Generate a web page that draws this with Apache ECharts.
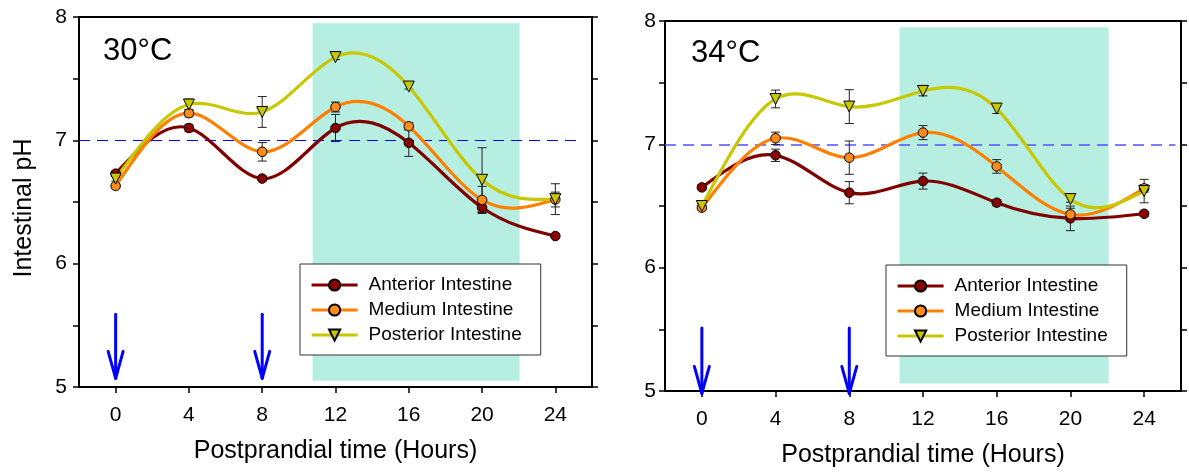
<!DOCTYPE html>
<html>
<head>
<meta charset="utf-8">
<script src="https://cdn.jsdelivr.net/npm/echarts@6/dist/echarts.min.js"></script>
<style>
html,body{margin:0;padding:0;background:#fff;}
#chart{width:1189px;height:473px;}
</style>
</head>
<body>
<div id="chart"></div>
<script>
// ---------- data ----------
const hours = [0, 4, 8, 12, 16, 20, 24];
const xTickValues = [0, 4, 8, 12, 16, 20, 24];
const yLabelValues = [5, 6, 7, 8];
const seriesNames = ['Anterior Intestine', 'Medium Intestine', 'Posterior Intestine'];
const panelTitles = ['30°C', '34°C'];

const ant30 = [6.73, 7.10, 6.69, 7.10, 6.98, 6.455, 6.224];
const ant30Err = [0.02, 0.03, 0.02, 0.11, 0.11, 0.04, 0.02];
const med30 = [6.63, 7.22, 6.907, 7.27, 7.114, 6.517, 6.52];
const med30Err = [0.02, 0.03, 0.075, 0.04, 0.03, 0.11, 0.06];
const pos30 = [6.69, 7.29, 7.23, 7.675, 7.436, 6.68, 6.523];
const pos30Err = [0.02, 0.045, 0.125, 0.02, 0.02, 0.26, 0.125];

const ant34 = [6.651, 6.911, 6.608, 6.702, 6.527, 6.40, 6.437];
const ant34Err = [0.02, 0.05, 0.09, 0.065, 0.025, 0.10, 0.02];
const med34 = [6.486, 7.049, 6.892, 7.095, 6.821, 6.432, 6.643];
const med34Err = [0.02, 0.05, 0.135, 0.057, 0.055, 0.05, 0.03];
const pos34 = [6.50, 7.368, 7.306, 7.433, 7.29, 6.556, 6.621];
const pos34Err = [0.02, 0.072, 0.137, 0.04, 0.04, 0.025, 0.095];

const feedingTimes = [0, 8];
const arrow30 = [5.59, 5.07];   // [top, tip] pH
const arrow34 = [5.51, 4.98];
const shade30 = [10.75, 22.05, 5.05, 7.95]; // x0, x1, y0, y1
const shade34 = [10.73, 22.07, 5.06, 7.95];
const neutralPH = 7;
const dashEnd = [25.5, 25.7];

// ---------- styles ----------
const FONT = 'Liberation Sans, Arial, sans-serif';
const colors = ['#800000', '#ff8000', '#c8c800'];
const markerFill = ['#8b0000', '#ff8c1a', '#c8c800'];
const symbols = ['circle', 'circle', 'triangle'];
const rot = [0, 0, 180];

// natural cubic spline second derivatives (used only to shape the drawn curve)
function splineM(xs, ys) {
  const n = xs.length, M = new Array(n).fill(0);
  if (n < 3) return M;
  const a = [], b = [], c = [], d = [];
  for (let i = 1; i < n - 1; i++) {
    const h0 = xs[i] - xs[i - 1], h1 = xs[i + 1] - xs[i];
    a.push(h0); b.push(2 * (h0 + h1)); c.push(h1);
    d.push(6 * ((ys[i + 1] - ys[i]) / h1 - (ys[i] - ys[i - 1]) / h0));
  }
  const m = b.length;
  for (let i = 1; i < m; i++) {
    const w = a[i] / b[i - 1];
    b[i] -= w * c[i - 1]; d[i] -= w * d[i - 1];
  }
  const sol = new Array(m);
  sol[m - 1] = d[m - 1] / b[m - 1];
  for (let i = m - 2; i >= 0; i--) sol[i] = (d[i] - c[i] * sol[i + 1]) / b[i];
  for (let i = 0; i < m; i++) M[i + 1] = sol[i];
  return M;
}

function curveSeries(v, k, idx) {
  const M = splineM(hours, v);
  return {
    type: 'custom', xAxisIndex: idx * 2, yAxisIndex: idx * 2, z: 4, silent: true,
    data: hours.map((h, i) => [h, v[i]]),
    renderItem: function (params, api) {
      const i = params.dataIndex;
      if (i >= hours.length - 1) return null;
      const x0 = hours[i], x1 = hours[i + 1], y0 = v[i], y1 = v[i + 1];
      const h = x1 - x0;
      const s0 = (y1 - y0) / h - h * (2 * M[i] + M[i + 1]) / 6;
      const s1 = (y1 - y0) / h + h * (M[i] + 2 * M[i + 1]) / 6;
      const p0 = api.coord([x0, y0]);
      const c1 = api.coord([x0 + h / 3, y0 + s0 * h / 3]);
      const c2 = api.coord([x1 - h / 3, y1 - s1 * h / 3]);
      const p1 = api.coord([x1, y1]);
      return { type: 'bezierCurve',
        shape: { x1: p0[0], y1: p0[1], cpx1: c1[0], cpy1: c1[1], cpx2: c2[0], cpy2: c2[1], x2: p1[0], y2: p1[1] },
        style: { stroke: colors[k], lineWidth: 3.2, fill: null, lineCap: 'round' } };
    }
  };
}

function errSeries(v, e, idx) {
  return {
    type: 'custom', xAxisIndex: idx * 2, yAxisIndex: idx * 2, z: 3, silent: true,
    data: hours.map((h, i) => [h, v[i], e[i]]),
    renderItem: function (params, api) {
      const x = api.value(0), y = api.value(1), er = api.value(2);
      const t = api.coord([x, y + er]), b = api.coord([x, y - er]);
      const w = 4.5;
      const st = { stroke: '#222', lineWidth: 1 };
      return { type: 'group', children: [
        { type: 'line', shape: { x1: t[0], y1: t[1], x2: b[0], y2: b[1] }, style: st },
        { type: 'line', shape: { x1: t[0] - w, y1: t[1], x2: t[0] + w, y2: t[1] }, style: st },
        { type: 'line', shape: { x1: b[0] - w, y1: b[1], x2: b[0] + w, y2: b[1] }, style: st }
      ]};
    }
  };
}

function markerSeries(name, v, k, idx) {
  return {
    name: name, type: 'line', xAxisIndex: idx * 2, yAxisIndex: idx * 2,
    data: hours.map((h, i) => [h, v[i]]),
    z: 5,
    symbol: symbols[k], symbolRotate: rot[k], symbolSize: k === 2 ? 11 : 9.5,
    lineStyle: { color: colors[k], width: 3.2, opacity: 0 },
    itemStyle: { color: markerFill[k], borderColor: '#000', borderWidth: 1 },
    emphasis: { disabled: true }
  };
}

function shadeSeries(s, idx) {
  return {
    type: 'custom', xAxisIndex: idx * 2, yAxisIndex: idx * 2, z: 1, silent: true,
    data: [s],
    renderItem: function (params, api) {
      const p0 = api.coord([api.value(0), api.value(3)]);
      const p1 = api.coord([api.value(1), api.value(2)]);
      return { type: 'rect', shape: { x: p0[0], y: p0[1], width: p1[0] - p0[0], height: p1[1] - p0[1] },
        style: { fill: '#b6efe1' } };
    }
  };
}

function arrowSeries(a, idx) {
  return {
    type: 'custom', xAxisIndex: idx * 2, yAxisIndex: idx * 2, z: 6, silent: true, clip: false,
    data: feedingTimes.map(t => [t, a[0], a[1]]),
    renderItem: function (params, api) {
      const top = api.coord([api.value(0), api.value(1)]);
      const tip = api.coord([api.value(0), api.value(2)]);
      const st = { stroke: '#0000ff', lineWidth: 3, lineCap: 'round', lineJoin: 'round', fill: null };
      return { type: 'group', children: [
        { type: 'line', shape: { x1: top[0], y1: top[1], x2: tip[0], y2: tip[1] }, style: st },
        { type: 'polyline', shape: { points: [[tip[0] - 7.5, tip[1] - 27], [tip[0], tip[1]], [tip[0] + 7.5, tip[1] - 27]] }, style: st }
      ]};
    }
  };
}

function dashSeries(idx, end, color, width) {
  return {
    type: 'line', xAxisIndex: idx * 2, yAxisIndex: idx * 2, data: [], silent: true,
    markLine: {
      silent: true, symbol: 'none', animation: false, z: 2,
      label: { show: false },
      lineStyle: { color: color, width: width, type: [11, 7] },
      data: [[{ coord: [-2, neutralPH] }, { coord: [end, neutralPH] }]]
    }
  };
}

const grids = [
  { left: 79, right: 597, top: 17, bottom: 86 },
  { left: 665, right: 8, top: 21, bottom: 82 }
];

function axesFor(idx) {
  const axLine = { show: true, onZero: false, lineStyle: { color: '#000', width: 2 } };
  const xs = [
    { type: 'value', gridIndex: idx, min: -2, max: 26, position: 'bottom',
      axisLine: axLine,
      axisTick: { show: true, inside: false, length: 6, customValues: xTickValues, lineStyle: { color: '#000', width: 1.5 } },
      axisLabel: { customValues: xTickValues, fontSize: 21, color: '#000', fontFamily: FONT, margin: 18 },
      splitLine: { show: false },
      name: 'Postprandial time (Hours)', nameLocation: 'middle', nameGap: 52,
      nameTextStyle: { fontSize: 25, color: '#000', fontFamily: FONT, verticalAlign: 'top' } },
    { type: 'value', gridIndex: idx, min: -2, max: 26, position: 'top',
      axisLine: axLine, axisTick: { show: false }, axisLabel: { show: false }, splitLine: { show: false } }
  ];
  const ys = [
    { type: 'value', gridIndex: idx, min: 5, max: 8, interval: 0.5, position: 'left',
      axisLine: axLine,
      axisTick: { show: true, inside: false, length: 6, lineStyle: { color: '#000', width: 1.5 } },
      axisLabel: { fontSize: 21, color: '#000', fontFamily: FONT, margin: idx === 0 ? 12 : 9,
        formatter: v => (yLabelValues.indexOf(v) >= 0 ? String(v) : '') },
      splitLine: { show: false } },
    { type: 'value', gridIndex: idx, min: 5, max: 8, interval: 0.5, position: 'right',
      axisLine: axLine,
      axisTick: { show: true, inside: false, length: 6, lineStyle: { color: '#000', width: 1.5 } },
      axisLabel: { show: false }, splitLine: { show: false } }
  ];
  return { xs, ys };
}

const a0 = axesFor(0), a1 = axesFor(1);

function legendFor(left, top) {
  return {
    data: seriesNames.map((n, k) => ({ name: n, lineStyle: { color: colors[k], width: 3.2, opacity: 1 } })),
    orient: 'vertical', left: left, top: top,
    backgroundColor: '#fff', borderColor: '#333', borderWidth: 1,
    padding: [11, 19, 10, 10], itemGap: 5, itemWidth: 46, itemHeight: 14,
    selectedMode: false,
    textStyle: { fontSize: 19, lineHeight: 20, color: '#000', fontFamily: FONT, padding: [0, 0, 0, 6] }
  };
}

const option = {
  animation: false,
  backgroundColor: '#fff',
  textStyle: { fontFamily: FONT },
  grid: grids,
  xAxis: [a0.xs[0], a0.xs[1], a1.xs[0], a1.xs[1]],
  yAxis: [a0.ys[0], a0.ys[1], a1.ys[0], a1.ys[1]],
  legend: [legendFor(300, 264), legendFor(886, 265)],
  graphic: [
    { type: 'text', left: 103, top: 36, z: 10, style: { text: panelTitles[0], fontSize: 31, fill: '#000', fontFamily: FONT } },
    { type: 'text', left: 691, top: 38, z: 10, style: { text: panelTitles[1], fontSize: 31, fill: '#000', fontFamily: FONT } },
    { type: 'text', x: 24, y: 208, rotation: Math.PI / 2, z: 10,
      style: { text: 'Intestinal pH', fontSize: 25, fill: '#000', fontFamily: FONT, align: 'center', verticalAlign: 'middle' } }
  ],
  series: [
    shadeSeries(shade30, 0),
    dashSeries(0, dashEnd[0], '#0000ff', 1),
    errSeries(ant30, ant30Err, 0), errSeries(med30, med30Err, 0), errSeries(pos30, pos30Err, 0),
    curveSeries(ant30, 0, 0), curveSeries(med30, 1, 0), curveSeries(pos30, 2, 0),
    markerSeries(seriesNames[0], ant30, 0, 0),
    markerSeries(seriesNames[1], med30, 1, 0),
    markerSeries(seriesNames[2], pos30, 2, 0),
    arrowSeries(arrow30, 0),

    shadeSeries(shade34, 1),
    dashSeries(1, dashEnd[1], '#5050ff', 1.5),
    errSeries(ant34, ant34Err, 1), errSeries(med34, med34Err, 1), errSeries(pos34, pos34Err, 1),
    curveSeries(ant34, 0, 1), curveSeries(med34, 1, 1), curveSeries(pos34, 2, 1),
    markerSeries(seriesNames[0], ant34, 0, 1),
    markerSeries(seriesNames[1], med34, 1, 1),
    markerSeries(seriesNames[2], pos34, 2, 1),
    arrowSeries(arrow34, 1)
  ]
};

const chart = echarts.init(document.getElementById('chart'), null, { renderer: 'canvas' });
chart.setOption(option);
</script>
</body>
</html>
